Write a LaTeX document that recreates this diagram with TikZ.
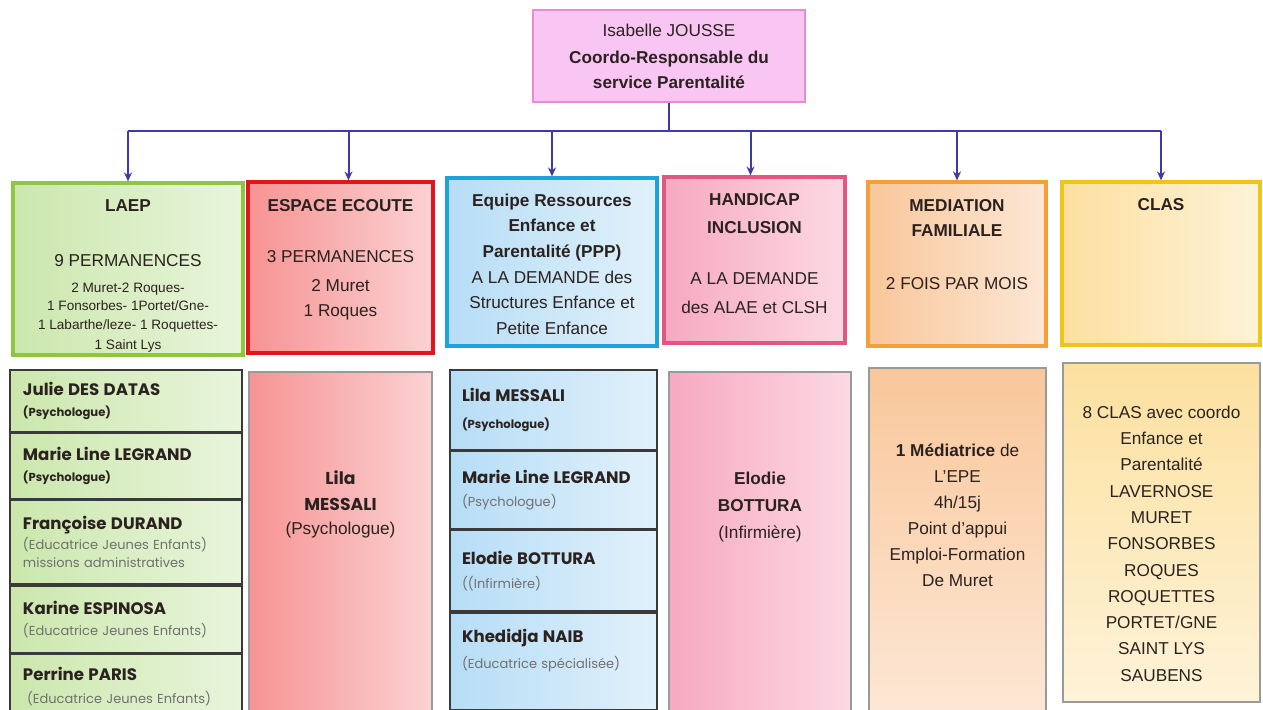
\documentclass[tikz,border=0pt]{standalone}
\usepackage{fontspec}
\setmainfont{Liberation Sans}
\newfontfamily\gothic{Poppins}
\usetikzlibrary{
    arrows.meta,
    positioning
}
\definecolor{ink}{HTML}{2B2220}
\definecolor{greytext}{HTML}{707070}
\definecolor{linkblue}{HTML}{4039A8}
\definecolor{chefline}{HTML}{E68BD6}
\definecolor{cheffill}{HTML}{F9C6F3}
\definecolor{laepline}{HTML}{8DC63F}
\definecolor{laepdark}{HTML}{CBE7AC}
\definecolor{laeplight}{HTML}{E9F5DC}
\definecolor{ecouteline}{HTML}{E2141E}
\definecolor{ecoutedark}{HTML}{F79393}
\definecolor{ecoutelight}{HTML}{FBD2D2}
\definecolor{equipeline}{HTML}{1CA3DE}
\definecolor{equipedark}{HTML}{B6DDF6}
\definecolor{equipelight}{HTML}{E1F1FB}
\definecolor{handiline}{HTML}{E2577F}
\definecolor{handidark}{HTML}{F7A9C1}
\definecolor{handilight}{HTML}{FCD9E4}
\definecolor{mediline}{HTML}{F3A03A}
\definecolor{medidark}{HTML}{F9C79A}
\definecolor{medilight}{HTML}{FDE7D5}
\definecolor{clasline}{HTML}{EEC61A}
\definecolor{clasdark}{HTML}{FCE09F}
\definecolor{claslight}{HTML}{FEF3D8}
\definecolor{cellline}{HTML}{3A3A3A}
\definecolor{panelline}{HTML}{9A9A9A}
\tikzset{
    director/.style = {
        rectangle,
        draw=chefline,
        line width=1.2pt,
        fill=cheffill,
        minimum width=136pt,
        minimum height=46pt,
        align=center,
        text=ink,
        font=\fontsize{8.6}{12.5}\selectfont
    },
    header/.style = {
        rectangle,
        line width=1.6pt
    },
    panel/.style = {
        rectangle,
        draw=panelline,
        line width=0.6pt
    },
    caption/.style = {
        inner sep=0pt,
        align=center,
        text=ink,
        font=\fontsize{8.6}{12.5}\selectfont
    },
    laepcell/.style = {
        rectangle,
        draw=cellline,
        line width=0.8pt,
        left color=laepdark,
        right color=laeplight,
        minimum width=116pt,
        text width=103pt,
        inner xsep=6.5pt,
        align=left,
        text=ink,
        font=\gothic\fontsize{6.5}{10.5}\selectfont
    },
    equipecell/.style = {
        rectangle,
        draw=cellline,
        line width=0.8pt,
        left color=equipedark,
        right color=equipelight,
        minimum width=103.5pt,
        text width=91.5pt,
        inner xsep=6pt,
        align=left,
        text=ink,
        font=\gothic\fontsize{6.5}{10.5}\selectfont
    },
    arrow/.style = {
        -{Stealth[length=4.5pt,width=4pt]},
        line width=1pt,
        draw=linkblue
    }
}

\begin{document}
\begin{tikzpicture}[x=0.5pt,y=-0.5pt]
\useasboundingbox (0,0) rectangle (1263,709);
\clip (0,0) rectangle (1263,709);

\node (chef) [director] at (669,56) {Isabelle JOUSSE\\[1pt] \textbf{Coordo-Responsable du}\\ \textbf{service Parentalité}};

\node (laep) [header,draw=laepline,left color=laepdark,right color=laeplight,minimum width=115pt,minimum height=86pt] at (128,269) {};
\node (ecoute) [header,draw=ecouteline,left color=ecoutedark,right color=ecoutelight,minimum width=92.5pt,minimum height=85.5pt] at (340.5,267.5) {};
\node (equipe) [header,draw=equipeline,left color=equipedark,right color=equipelight,minimum width=105pt,minimum height=84pt] at (552,262) {};
\node (handicap) [header,draw=handiline,left color=handidark,right color=handilight,minimum width=90.5pt,minimum height=83pt] at (754.5,260) {};
\node (mediation) [header,draw=mediline,left color=medidark,right color=medilight,minimum width=89pt,minimum height=82pt] at (957,264) {};
\node (clas) [header,draw=clasline,left color=clasdark,right color=claslight,minimum width=99pt,minimum height=81.5pt] at (1161,263.5) {};

\node (laeptext) [caption,below=9pt of laep.north] {\textbf{LAEP}\\[15pt] 9 PERMANENCES\\[0.5pt] {\fontsize{6.8}{8}\selectfont 2 Muret-2 Roques-}\\[-3.5pt] {\fontsize{6.8}{8}\selectfont 1 Fonsorbes- 1Portet/Gne-}\\[-3pt] {\fontsize{6.8}{8}\selectfont 1 Labarthe/leze- 1 Roquettes-}\\[-2.5pt] {\fontsize{6.8}{8}\selectfont 1 Saint Lys}};
\node (ecoutetext) [caption,below=9.5pt of ecoute.north] {\textbf{ESPACE ECOUTE}\\[13pt] 3 PERMANENCES\\[2pt] 2 Muret\\ 1 Roques};
\node (equipetext) [caption,below=8.5pt of equipe.north] {\textbf{Equipe Ressources}\\[0.3pt] \textbf{Enfance et}\\[0.3pt] \textbf{Parentalité (PPP)}\\[0.3pt] A LA DEMANDE des\\[0.3pt] Structures Enfance et\\[0.3pt] Petite Enfance};
\node (handicaptext) [caption,below=9pt of handicap.north] {\textbf{HANDICAP}\\[1.5pt] \textbf{INCLUSION}\\[13pt] A LA DEMANDE\\[2pt] des ALAE et CLSH};
\node (mediationtext) [caption,below=9.5pt of mediation.north] {\textbf{MEDIATION}\\ \textbf{FAMILIALE}\\[14pt] 2 FOIS PAR MOIS};
\node (clastext) [caption,below=9pt of clas.north] {\textbf{CLAS}};

\coordinate (bus) at (668,131);
\draw[arrow,-] (chef.south) -- (chef.south |- bus);
\draw[arrow,-] (laep.north |- bus) -- (clas.north |- bus);
\draw[arrow] (laep.north |- bus) -- (laep.north);
\draw[arrow] ([xshift=4pt]ecoute.north |- bus) -- ([xshift=4pt]ecoute.north);
\draw[arrow] (equipe.north |- bus) -- (equipe.north);
\draw[arrow] ([xshift=-2pt]handicap.north |- bus) -- ([xshift=-2pt]handicap.north);
\draw[arrow] (mediation.north |- bus) -- (mediation.north);
\draw[arrow] (clas.north |- bus) -- (clas.north);

\node (l1) [laepcell,minimum height=31pt] at (126,401) {{\bfseries\fontsize{8.3}{10.5}\selectfont Julie DES DATAS}\\ {\bfseries\fontsize{5.8}{7}\selectfont (Psychologue)}};
\node (l2) [laepcell,minimum height=32.5pt,below=0pt of l1] {{\bfseries\fontsize{8.3}{10.5}\selectfont Marie Line LEGRAND}\\ {\bfseries\fontsize{5.8}{7}\selectfont (Psychologue)}};
\node (l3) [laepcell,minimum height=42pt,below=0pt of l2] {{\bfseries\fontsize{8.3}{10.5}\selectfont Françoise DURAND}\\[-0.5pt] {\color{greytext}(Educatrice Jeunes Enfants)}\\[-1.5pt] {\color{greytext}missions administratives}};
\node (l4) [laepcell,minimum height=33.5pt,below=0pt of l3] {{\bfseries\fontsize{8.3}{10.5}\selectfont Karine ESPINOSA}\\ {\color{greytext}(Educatrice Jeunes Enfants)}};
\node (l5) [laepcell,minimum height=32pt,below=0pt of l4] {{\bfseries\fontsize{8.3}{10.5}\selectfont Perrine PARIS}\\[1pt] \hspace*{2pt}{\color{greytext}(Educatrice Jeunes Enfants)}};

\node (ecoutebas) [panel,left color=ecoutedark,right color=ecoutelight,minimum width=91.5pt,minimum height=170pt] at (340.5,542) {};
\node (ecoutenom) [caption,below=49.5pt of ecoutebas.north] {{\gothic\bfseries Lila}\\[0.5pt] {\gothic\bfseries MESSALI}\\[-0.5pt] (Psychologue)};

\node (e1) [equipecell,minimum height=40pt] at (553.5,410) {{\bfseries\fontsize{8.3}{10.5}\selectfont Lila MESSALI}\\[3pt] {\bfseries\fontsize{5.8}{7}\selectfont (Psychologue)}};
\node (e2) [equipecell,minimum height=38.5pt,below=0pt of e1] {{\bfseries\fontsize{8.3}{10.5}\selectfont Marie Line LEGRAND}\\[1pt] {\color{greytext}(Psychologue)}};
\node (e3) [equipecell,minimum height=40.5pt,below=0pt of e2] {{\bfseries\fontsize{8.3}{10.5}\selectfont Elodie BOTTURA}\\[1.5pt] {\color{greytext}((Infirmière)}};
\node (e4) [equipecell,minimum height=48.5pt,below=0pt of e3] {{\bfseries\fontsize{8.3}{10.5}\selectfont Khedidja NAIB}\\[2.5pt] {\color{greytext}(Educatrice spécialisée)}\par\vspace*{11pt}};

\node (handicapbas) [panel,left color=handidark,right color=handilight,minimum width=91pt,minimum height=170pt] at (760,542) {};
\node (handicapnom) [caption,below=50pt of handicapbas.north] {\textbf{Elodie}\\[1pt] \textbf{BOTTURA}\\[1pt] (Infirmière)};

\node (mediationbas) [panel,top color=medidark,bottom color=medilight,minimum width=88.5pt,minimum height=172pt] at (957.5,540) {};
\node (mediationnom) [caption,below=38pt of mediationbas.north] {\textbf{1 Médiatrice} de\\[0.5pt] L'EPE\\[0.5pt] 4h/15j\\[0.5pt] Point d'appui\\[0.5pt] Emploi-Formation\\[0.5pt] De Muret};

\node (clasbas) [panel,top color=clasdark,bottom color=claslight,minimum width=98.5pt,minimum height=169.5pt] at (1161.5,532.5) {};
\node (clasnom) [caption,below=21.5pt of clasbas.north] {8 CLAS avec coordo\\[0.65pt] Enfance et\\[0.65pt] Parentalité\\[0.65pt] LAVERNOSE\\[0.65pt] MURET\\[0.65pt] FONSORBES\\[0.65pt] ROQUES\\[0.65pt] ROQUETTES\\[0.65pt] PORTET/GNE\\[0.65pt] SAINT LYS\\[0.65pt] SAUBENS};
\end{tikzpicture}
\end{document}
